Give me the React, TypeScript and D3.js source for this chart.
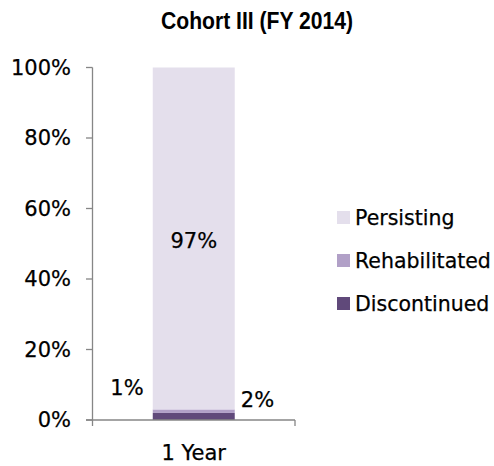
import React from "react";
import * as d3 from "d3";

const categories = ["1 Year"];
const seriesNames = ["Discontinued", "Rehabilitated", "Persisting"];
const discontinued = [2];
const rehabilitated = [1];
const persisting = [97];
const yTicks = [0, 20, 40, 60, 80, 100];
const colors = ["#60497A", "#B1A0C7", "#E4DFEC"];
const title = "Cohort III (FY 2014)";

const W = 494;
const H = 466;
const FONT = "'DejaVu Sans', Verdana, sans-serif";

export default function App() {
  const y = d3.scaleLinear().domain([0, 100]).range([420, 67.5]);
  const x = d3.scaleBand().domain(categories).range([92.5, 295]).paddingInner(0).paddingOuter(0.735);

  const rows = categories.map((c, i) => ({
    cat: c,
    Discontinued: discontinued[i],
    Rehabilitated: rehabilitated[i],
    Persisting: persisting[i],
  }));
  const stack = d3.stack<any>().keys(seriesNames)(rows);

  const legendOrder = ["Persisting", "Rehabilitated", "Discontinued"];
  const legendY = d3.scalePoint().domain(legendOrder).range([217, 303]);

  const cx = (x(categories[0]) as number) + x.bandwidth() / 2;
  const textStyle = { stroke: "#000", strokeWidth: 0.25 } as React.CSSProperties;

  return (
    <svg width={W} height={H} style={{ position: "absolute", left: 0, top: 0 }}>
      <rect x={0} y={0} width={W} height={H} fill="#fff" />
      <g transform="translate(257,29) scale(0.88,1)">
        <text
          x={0}
          y={0}
          textAnchor="middle"
          fontFamily="'Liberation Sans Narrow', 'Arial Narrow', 'Liberation Sans', Arial, sans-serif"
          fontWeight="bold"
          fontSize={24}
          fill="#000"
        >
          {title}
        </text>
      </g>

      {/* bars */}
      {stack.map((s, si) =>
        s.map((d, di) => (
          <rect
            key={`${si}-${di}`}
            x={x(categories[di]) as number}
            y={y(d[1])}
            width={x.bandwidth()}
            height={y(d[0]) - y(d[1])}
            fill={colors[si]}
          />
        ))
      )}

      {/* y axis */}
      <line x1={92.5} x2={92.5} y1={y(100)} y2={y(0)} stroke="#868686" strokeWidth={1.3} />
      {yTicks.map((t) => (
        <g key={t}>
          <line x1={86} x2={92.5} y1={y(t)} y2={y(t)} stroke="#868686" strokeWidth={1.3} />
          <text x={71} y={y(t) + 7} textAnchor="end" fontFamily={FONT} fontSize={21} fill="#000" style={textStyle}>
            {t}%
          </text>
        </g>
      ))}

      {/* x axis */}
      <line x1={86} x2={295} y1={y(0)} y2={y(0)} stroke="#868686" strokeWidth={1.3} />
      <line x1={92.5} x2={92.5} y1={y(0)} y2={y(0) + 6} stroke="#868686" strokeWidth={1.3} />
      <line x1={295} x2={295} y1={y(0)} y2={y(0) + 6} stroke="#868686" strokeWidth={1.3} />
      {categories.map((c) => (
        <text key={c} x={cx} y={460} textAnchor="middle" fontFamily={FONT} fontSize={21} fill="#000" style={textStyle}>
          {c}
        </text>
      ))}

      {/* data labels */}
      <text x={cx} y={248} textAnchor="middle" fontFamily={FONT} fontSize={21} fill="#000" style={textStyle}>
        {persisting[0]}%
      </text>
      <text x={127} y={395} textAnchor="middle" fontFamily={FONT} fontSize={21} fill="#000" style={textStyle}>
        {rehabilitated[0]}%
      </text>
      <text x={257.5} y={407} textAnchor="middle" fontFamily={FONT} fontSize={21} fill="#000" style={textStyle}>
        {discontinued[0]}%
      </text>

      {/* legend */}
      {legendOrder.map((n) => {
        const ly = legendY(n) as number;
        return (
          <g key={n}>
            <rect x={337} y={ly - 6} width={13} height={13} fill={colors[seriesNames.indexOf(n)]} />
            <text x={355} y={ly + 8} fontFamily={FONT} fontSize={20.5} fill="#000" style={textStyle}>
              {n}
            </text>
          </g>
        );
      })}
    </svg>
  );
}
